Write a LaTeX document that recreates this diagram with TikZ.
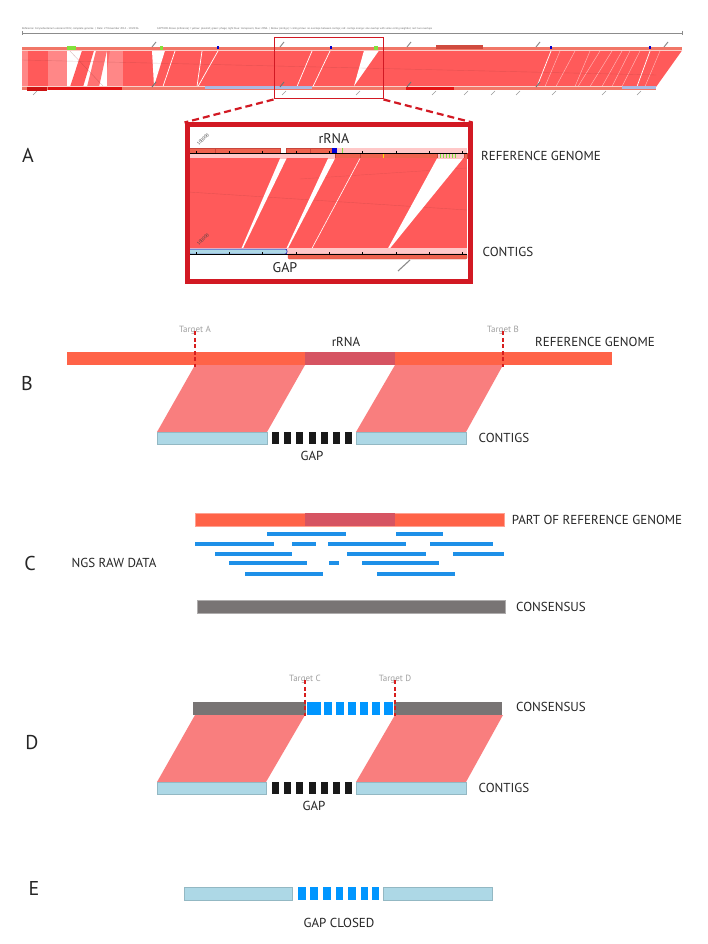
\documentclass[tikz,border=0pt]{standalone}
\usepackage{fontspec}
\setmainfont{PT Sans}
\definecolor{stripred}{RGB}{255,90,90}
\definecolor{lpink}{RGB}{255,200,200}
\definecolor{mpink}{RGB}{255,135,135}
\definecolor{salmon}{RGB}{238,98,78}
\definecolor{salmondk}{RGB}{200,70,60}
\definecolor{refbar}{RGB}{255,99,72}
\definecolor{rrnacol}{RGB}{214,84,98}
\definecolor{paral}{RGB}{249,126,126}
\definecolor{contig}{RGB}{173,216,230}
\definecolor{readblue}{RGB}{30,144,232}
\definecolor{blockblue}{RGB}{0,150,255}
\definecolor{consgray}{RGB}{120,116,116}
\definecolor{gapblack}{RGB}{25,25,25}
\definecolor{tgtgray}{RGB}{160,160,160}
\definecolor{dashred}{RGB}{215,30,30}
\definecolor{boxred}{RGB}{210,25,35}
\definecolor{tickgray}{RGB}{140,140,140}
\definecolor{lightbluegray}{RGB}{170,185,225}
\definecolor{brightred}{RGB}{228,20,20}
\definecolor{phagegreen}{RGB}{130,225,60}
\begin{document}
\begin{tikzpicture}[x=1pt,y=-1pt,
  lbl/.style={font=\fontsize{13}{15}\selectfont, text=black!85, inner sep=0pt},
  letter/.style={font=\fontsize{20}{22}\selectfont, text=black!85, inner sep=0pt},
  tgt/.style={font=\fontsize{9}{10}\selectfont, text=tgtgray, inner sep=0pt},
  tdash/.style={draw=dashred, dash pattern=on 4pt off 2.5pt, line width=1.3pt},
  zoomdash/.style={draw=boxred, dash pattern=on 7pt off 4pt, line width=2.2pt},
  tiny/.style={font=\fontsize{2.7}{3}\selectfont, text=black!60, inner sep=0pt, anchor=west},
  gtick/.style={draw=tickgray, line width=1pt},
  rot/.style={font=\fontsize{4.5}{5}\selectfont, text=black!75, inner sep=0pt, rotate=45, anchor=south west},
  read/.style={draw=readblue, line width=3.4pt},
  gapblk/.style={fill=gapblack},
  cbar/.style={fill=contig, draw=contig!85!black, line width=0.3pt},
]
\useasboundingbox (0,0) rectangle (708,944);
\fill[white] (0,0) rectangle (708,944);

% ================= top strip =================
\node[tiny] (hdr1) at (22,29) {Reference: Corynebacterium ulcerans 0102, complete genome \;|\; Date: 27 November 2014 - 10:28:36};
\node[tiny] (hdr2) at (157,29) {CAPTION: Above (reference) = yellow: plasmid; green: phage; light blue: transposon; blue: rRNA \;|\; Below (contigs) = contigs blue: no overlaps between contigs; red: contigs orange: one overlap with some contig neighbor; red: two overlaps};
\draw[black!45, line width=0.6pt] (22,33) -- (682,33);
\draw[black!45, line width=0.6pt] (22,31) -- (22,35) (682,31) -- (682,35);

% red alignment band
\fill[stripred] (22,50.5) -- (682,50.5) -- (656,87) -- (22,87) -- cycle;
\fill[mpink] (22,50.5) rectangle (28,87);
\fill[mpink] (48,50.5) rectangle (67,87);
\fill[white] (67,50.5) rectangle (123,87);
\fill[stripred] (82,50.5) -- (94,50.5) -- (83,87) -- (70,87) -- cycle;
\fill[stripred!85!white] (96,50.5) -- (107,50.5) -- (99,87) -- (87,87) -- cycle;
\fill[mpink] (107,50.5) rectangle (123,87);
\fill[stripred!90!white] (107,50.5) -- (110,50.5) -- (107,70) -- cycle;
\draw[stripred!60!black, opacity=.35, line width=0.4pt] (70,51) -- (103,86);
\fill[white] (152,50.5) -- (165,50.5) -- (154,86) -- cycle;
\fill[white] (364,50.5) -- (379,50.5) -- (354,86) -- cycle;
\foreach \a/\b in {175/163, 202/197, 218/198, 312/297, 330/313, 551/537, 650/637}
  \draw[white, line width=0.7pt] (\a,51) -- (\b,86.5);
\foreach \a/\b in {560/545, 575/556, 590/575, 600/578, 612/590, 622/602, 630/612, 640/622, 660/645}
  \draw[white, opacity=.6, line width=0.4pt] (\a,51) -- (\b,86.5);
\draw[stripred!60!black, opacity=.25, line width=0.4pt] (22,60) -- (656,75);

% top reference bar
\fill[salmon!80!lpink] (22,47) rectangle (682,50.5);
\draw[white!70!salmon, line width=0.6pt] (22,50.6) -- (682,50.6);
\fill[salmondk!80!salmon] (436,45.5) rectangle (483,49.5);
\fill[phagegreen] (67,46.5) rectangle (76,50);
\fill[phagegreen] (160,46.5) rectangle (163,50);
\fill[phagegreen] (374,46.5) rectangle (378,50);
\foreach \x in {218,331,551,650} \fill[blue!80!black] (\x-1.2,46.5) rectangle (\x+1.2,49.5);

% bottom contig bar
\fill[salmon!80!lpink] (22,86.5) rectangle (656,90);
\draw[white!70!salmon, line width=0.6pt] (22,86.5) -- (656,86.5);
\fill[brightred!90!black] (27,87) rectangle (47,91);
\fill[brightred] (48,87) rectangle (122,90);
\fill[lightbluegray] (205,86.5) rectangle (312,89.5);
\fill[brightred] (406,87) rectangle (454,90);
\fill[lightbluegray] (622,86.5) rectangle (656,89.5);

% gray slanted ticks
\foreach \x in {152,280,407,536,664} \draw[gtick] (\x,47) -- (\x+4,42);
\foreach \x in {152,280,407,536} \draw[gtick, draw=black!55] (\x,87) -- (\x+4,82);
\foreach \x in {33,282,356,432,464,491,516,552,602,637} \draw[gtick, draw=black!40, line width=0.6pt] (\x,95) -- (\x+4,91);

% zoom box
\node[draw=boxred, line width=1pt, minimum width=109pt, minimum height=61pt, inner sep=0pt] (zoombox) at (328.5,68.5) {};

% ================= panel A =================
\node[letter] (labA) at (28,155) {A};
% top track
\fill[lpink] (188,153.3) rectangle (467,158.5);
\fill[lpink] (336,148.3) rectangle (467,153.3);
\foreach \a/\b in {188/215, 215/280, 286/310, 310/332}
  \filldraw[fill=salmon, draw=salmondk, line width=0.3pt] (\a,148.3) rectangle (\b,153.3);
\fill[blue!85!black] (332,148) rectangle (336.5,153.5);
\foreach \a/\b in {335/360, 360/437, 464/467}
  \filldraw[fill=salmon, draw=salmondk, line width=0.3pt] (\a,153.3) rectangle (\b,158.5);
\draw[phagegreen, line width=0.7pt] (342,148.5) -- (342,153);
\foreach \x in {440,443,446,449,452,455} \draw[phagegreen, line width=0.7pt] (\x,153.6) -- (\x,158);
\draw[yellow!80!orange, line width=0.7pt] (383,153.6) -- (383,158);
\draw[black, line width=0.5pt] (188,153.3) -- (467,153.3);
\foreach \x in {196,229,262,296,329,362,396,429,462} \draw[black, line width=0.3pt] (\x,153.3) -- (\x,151.3);
\node[rot] (num1) at (199,146) {100000};
% red alignment
\fill[stripred] (188,158.5) rectangle (467,248.3);
\draw[stripred!60!black, opacity=.25, line width=0.4pt] (188,192) -- (467,210);
\draw[stripred!60!black, opacity=.2, line width=0.4pt] (300,179) -- (467,168);
\fill[white] (280,158.5) -- (286.5,158.5) -- (243,248.3) -- (241.5,248.3) -- cycle;
\fill[white] (328,158.5) -- (335,158.5) -- (288,248.3) -- (286.5,248.3) -- cycle;
\draw[white, line width=0.6pt] (360,158.5) -- (312,248.3);
\fill[white] (437,158.5) -- (463,158.5) -- (390,248.3) -- (388,248.3) -- cycle;
% bottom track
\fill[lpink] (188,248.3) rectangle (467,253.5);
\filldraw[fill=contig, draw=blue!70!black, line width=0.5pt, rounded corners=2pt] (188,249) rectangle (287,254);
\filldraw[fill=salmon, draw=salmondk, line width=0.3pt, rounded corners=1pt] (288,254) rectangle (467,259);
\draw[black, line width=0.5pt] (188,254) -- (467,254);
\foreach \x in {196,229,262,296,329,362,396,429,462} \draw[black, line width=0.3pt] (\x,254) -- (\x,252);
\node[rot] (num2) at (199,246) {100000};
\draw[gtick, draw=black!45, line width=1.1pt] (398,271) -- (410,260);
% labels
\node[lbl, font=\fontsize{14}{16}\selectfont] (rrnaA) at (334,139) {rRNA};
\node[lbl, font=\fontsize{14}{16}\selectfont] (gapA) at (285,268) {GAP};
\node[lbl] (refA) at (541,156) {REFERENCE GENOME};
\node[lbl] (conA) at (508,252) {CONTIGS};
% frame
\node[draw=boxred, line width=5pt, minimum width=283pt, minimum height=156pt, inner sep=0pt] (panelA) at (328.5,203) {};
\draw[zoomdash] (zoombox.south west) -- (panelA.north west);
\draw[zoomdash] (zoombox.south east) -- (panelA.north east);

% ================= panel B =================
\node[letter] (labB) at (27,383) {B};
\fill[refbar] (67,352) rectangle (612,365);
\fill[rrnacol] (305,352) rectangle (395,365);
\fill[paral] (195,365) -- (305,365) -- (267,432) -- (157,432) -- cycle;
\fill[paral] (395,365) -- (503,365) -- (466,432) -- (356,432) -- cycle;
\filldraw[cbar] (157,432) rectangle (267,444);
\filldraw[cbar] (356,432) rectangle (466,444);
\foreach \i in {0,...,6} \fill[gapblk] (272+12.2*\i,432) rectangle (279+12.2*\i,444);
\node[tgt] (tA) at (195,330) {Target A};
\node[tgt] (tB) at (503,330) {Target B};
\coordinate (tAend) at (195,367);
\coordinate (tBend) at (503,367);
\draw[tdash] (tA.south) ++(0,-3) -- (tAend);
\draw[tdash] (tB.south) ++(0,-3) -- (tBend);
\node[lbl] (rrnaB) at (346,342) {rRNA};
\node[lbl] (refB) at (595,342) {REFERENCE GENOME};
\node[lbl] (conB) at (504,438) {CONTIGS};
\node[lbl] (gapB) at (312,456) {GAP};

% ================= panel C =================
\node[letter] (labC) at (30,563) {C};
\node[lbl] (ngs) at (114,563) {NGS RAW DATA};
\filldraw[fill=refbar, draw=refbar!60!white, line width=0.4pt] (195,513) rectangle (504,526);
\fill[rrnacol] (305,513.3) rectangle (395,525.7);
\node[lbl] (partref) at (597,520) {PART OF REFERENCE GENOME};
\draw[read] (267,534) -- (346,534);
\draw[read] (396,534) -- (443,534);
\draw[read] (195,544) -- (274,544);
\draw[read] (292,544) -- (316,544);
\draw[read] (328,544) -- (406,544);
\draw[read] (430,544) -- (493,544);
\draw[read] (215,554) -- (292,554);
\draw[read] (347,554) -- (426,554);
\draw[read] (453,554) -- (504,554);
\draw[read] (229,563) -- (307,563);
\draw[read] (329,563) -- (339,563);
\draw[read] (362,563) -- (439,563);
\draw[read] (245,574) -- (323,574);
\draw[read] (377,574) -- (455,574);
\filldraw[fill=consgray, draw=consgray!60!white, line width=0.4pt] (197,600) rectangle (505,613);
\node[lbl] (consC) at (551,607) {CONSENSUS};

% ================= panel D =================
\node[letter] (labD) at (32,743) {D};
\fill[consgray] (193,702) rectangle (502,715);
\fill[white] (306,702) rectangle (394,715);
\foreach \a/\b in {307/321, 324/332, 336/344, 348/356, 360/368, 372/380, 384/393}
  \fill[blockblue] (\a,702) rectangle (\b,715);
\fill[paral] (195,715) -- (305,715) -- (266,782) -- (157,782) -- cycle;
\fill[paral] (395,715) -- (503,715) -- (466,782) -- (356,782) -- cycle;
\filldraw[cbar] (157,782) rectangle (266,794);
\filldraw[cbar] (356,782) rectangle (466,794);
\foreach \i in {0,...,6} \fill[gapblk] (272+12.2*\i,782) rectangle (279+12.2*\i,794);
\node[tgt] (tC) at (305,679) {Target C};
\node[tgt] (tD) at (395,679) {Target D};
\coordinate (tCend) at (305,716);
\coordinate (tDend) at (395,716);
\draw[tdash] (tC.south) ++(0,-3) -- (tCend);
\draw[tdash] (tD.south) ++(0,-3) -- (tDend);
\node[lbl] (consD) at (551,707) {CONSENSUS};
\node[lbl] (conD) at (504,788) {CONTIGS};
\node[lbl] (gapD) at (314,806) {GAP};

% ================= panel E =================
\node[letter] (labE) at (34,888) {E};
\filldraw[cbar] (184,887) rectangle (292,900);
\filldraw[cbar] (383,887) rectangle (492,900);
\foreach \a/\b in {298/306, 310/318, 323/331, 336/343, 348/356, 361/368, 372/379}
  \fill[blockblue] (\a,887) rectangle (\b,900);
\node[lbl] (gapclosed) at (339,923) {GAP CLOSED};
\end{tikzpicture}
\end{document}
